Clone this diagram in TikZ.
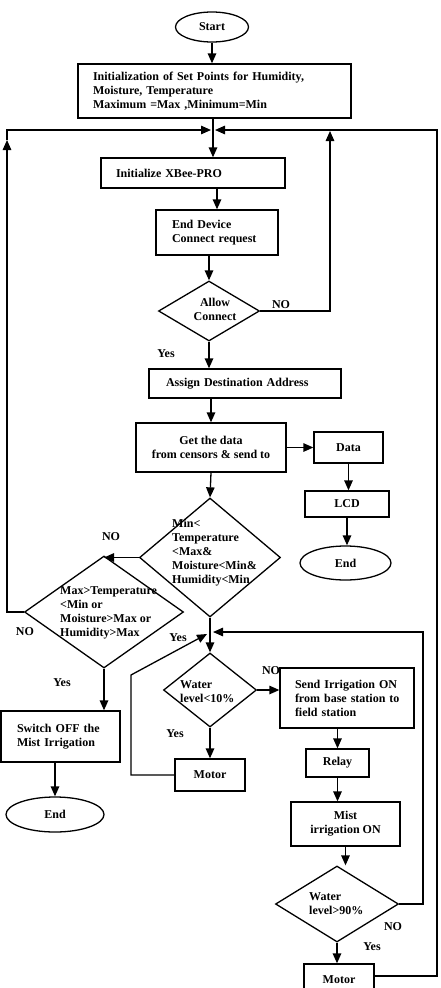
\documentclass[tikz,border=0pt]{standalone}
\usepackage{fontspec}
\setmainfont{Liberation Serif}
\usetikzlibrary{shapes.geometric,arrows.meta,calc}
\begin{document}
\begin{tikzpicture}[x=1pt,y=-1pt,
  every node/.style={font=\bfseries\fontsize{12}{14}\selectfont},
  ln/.style={line width=1.3pt},
  arr/.style={ln,-{Triangle[length=10pt,width=8.5pt]}},
  box/.style={draw,ln,rectangle,fill=white,inner ysep=0pt},
  dia/.style={draw,ln,diamond,fill=white,inner sep=0pt},
  oval/.style={draw,ln,ellipse,fill=white,inner sep=0pt},
  lbl/.style={inner sep=0pt},
  txt/.style={inner sep=0pt,align=left,anchor=west}]
\clip (0,0) rectangle (441,988);
% nodes
\node[oval,minimum width=73pt,minimum height=30pt] (start) at (212,27) {Start};
\node[box,minimum width=273pt,minimum height=54pt,text width=243pt,inner xsep=15pt,align=left] (init) at (214.5,91) {Initialization of Set Points for Humidity,\\Moisture, Temperature\\Maximum =Max ,Minimum=Min};
\node[box,minimum width=184pt,minimum height=30pt,text width=154pt,inner xsep=15pt,align=left] (xbee) at (193,173) {Initialize XBee-PRO};
\node[box,minimum width=122pt,minimum height=45pt,text width=90pt,inner xsep=16pt,align=left] (enddev) at (217,232.5) {End Device\\Connect request};
\node[dia,minimum width=101pt,minimum height=60pt] (allow) at (209,311) {};
\node[lbl,align=center] (allowT) at (215,309) {Allow\\Connect};
\node[box,minimum width=192pt,minimum height=29pt,text width=158pt,inner xsep=17pt,align=left] (assign) at (245,383.5) {Assign Destination Address};
\node[box,minimum width=150pt,minimum height=49pt,align=center] (getdata) at (211,447.5) {Get the data\\from censors \& send to};
\node[box,minimum width=69pt,minimum height=31pt] (data) at (348.5,447.5) {Data};
\node[box,minimum width=84pt,minimum height=26pt] (lcd) at (347,504) {LCD};
\node[oval,minimum width=91pt,minimum height=34pt] (end1) at (345.5,563) {End};
\node[dia,minimum width=141pt,minimum height=119pt] (mind) at (210,557.5) {};
\node[txt] (mindT) at (172,553) {Min<\\Temperature\\<Max\&\\Moisture<Min\&\\Humidity<Min};
\node[dia,minimum width=159pt,minimum height=112pt] (maxd) at (104,612) {};
\node[txt] (maxdT) at (60,613) {Max>Temperature\\<Min or\\Moisture>Max or\\Humidity>Max};
\node[box,minimum width=119pt,minimum height=51pt,text width=87pt,inner xsep=16pt,align=left] (switch) at (60.5,736.5) {Switch OFF the\\Mist Irrigation};
\node[oval,minimum width=98pt,minimum height=35pt] (end2) at (55,814.5) {End};
\node[dia,minimum width=93pt,minimum height=74pt] (w10) at (210,690) {};
\node[txt] (w10T) at (180,692) {Water\\level<10\%};
\node[box,minimum width=70pt,minimum height=32pt] (motor1) at (210,775) {Motor};
\node[box,minimum width=134pt,minimum height=60pt,text width=104pt,inner xsep=15pt,align=left] (send) at (347,698) {Send Irrigation ON\\\mbox{from base station to}\\field station};
\node[box,minimum width=63pt,minimum height=28pt] (relay) at (337.5,763) {Relay};
\node[box,minimum width=109pt,minimum height=44pt,align=center] (mist) at (345.5,824) {Mist\\irrigation ON};
\node[dia,minimum width=123pt,minimum height=76pt] (w90) at (337,904) {};
\node[txt] (w90T) at (309,904) {Water\\level>90\%};
\node[box,minimum width=70pt,minimum height=32pt] (motor2) at (339,980) {Motor};
% labels
\node[lbl] (noA) at (281,305) {NO};
\node[lbl] (yesA) at (166,354) {Yes};
\node[lbl] (noMin) at (111,537) {NO};
\node[lbl] (noMax) at (25,632) {NO};
\node[lbl] (yesMax) at (62,683) {Yes};
\node[lbl] (yesMin) at (178,638) {Yes};
\node[lbl] (noW10) at (271,671) {NO};
\node[lbl] (yesW10) at (175,734) {Yes};
\node[lbl] (noW90) at (393,927) {NO};
\node[lbl] (yesW90) at (372,947) {Yes};
% coordinates
\coordinate (J1) at (213,130);
\coordinate (J2) at (210,632);
\coordinate (L1) at (7,612);
\coordinate (L2) at (7,130);
\coordinate (L3) at (7,140);
\coordinate (R1) at (437,976);
\coordinate (R2) at (437,130);
\coordinate (A1) at (330,131);
\coordinate (M1) at (131,775);
\coordinate (M2) at (131,675);
\coordinate (N1) at (423,904);
\coordinate (N2) at (423,632);
% connectors
\draw[arr] (start.south) -- (start.south |- init.north);
\draw[ln] (J1 |- init.south) -- (J1);
\draw[arr] (J1) -- (J1 |- xbee.north);
\draw[arr] (maxd.west) -- (L1) -- (L3);
\draw[arr] (L3) -- (L2) -- ($(J1)+(-2,0)$);
\draw[arr] (motor2.east |- R1) -- (R1) -- (R2) -- ($(J1)+(2,0)$);
\draw[arr] (allow.east) -| (A1);
\draw[arr] (enddev.north |- xbee.south) -- (enddev.north);
\draw[arr] (allow.north |- enddev.south) -- (allow.north);
\draw[arr] (allow.south) -- (allow.south |- assign.north);
\draw[arr] (getdata.north |- assign.south) -- (getdata.north);
\draw[arr] (getdata.east) -- (data.west);
\draw[arr] (data.south) -- (data.south |- lcd.north);
\draw[arr] (lcd.south) -- (lcd.south |- end1.north);
\draw[arr] (getdata.south) -- (mind.north);
\draw[arr] (mind.west) -- (mind.west -| maxd.north);
\draw[arr] (maxd.south) -- (maxd.south |- switch.north);
\draw[arr] (end2.north |- switch.south) -- (end2.north);
\draw[ln] (mind.south) -- (J2);
\draw[arr] (J2) -- (w10.north);
\draw[arr] (motor1.west) -- (M1) -- (M2) -- ($(J2)+(-3,2)$);
\draw[arr] (w10.east) -- (w10.east -| send.west);
\draw[arr] (w10.south) -- (w10.south |- motor1.north);
\draw[arr] (relay.north |- send.south) -- (relay.north);
\draw[arr] (relay.south) -- (relay.south |- mist.north);
\draw[arr] (mist.south) -- (mist.south |- w90.north);
\draw[arr] (w90.east) -- (N1) -- (N2) -- ($(J2)+(3,0)$);
\draw[arr] (w90.south) -- (w90.south |- motor2.north);
\end{tikzpicture}
\end{document}
